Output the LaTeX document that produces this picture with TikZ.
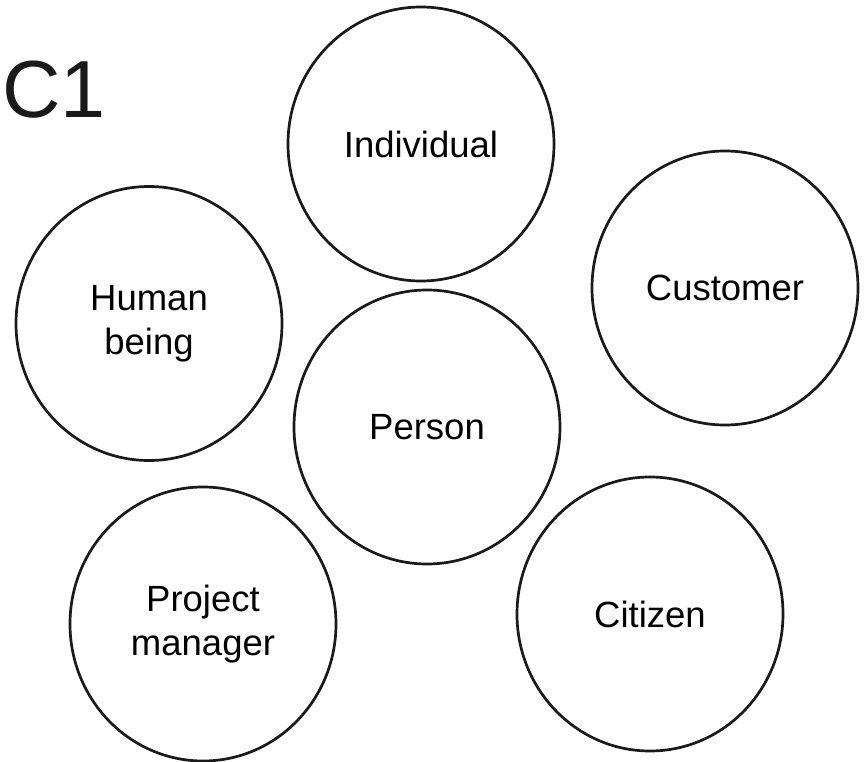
\documentclass[tikz,border=0pt]{standalone}
\usepackage{fontspec}
\setmainfont{Liberation Sans}
\usetikzlibrary{shapes.geometric}
\definecolor{inkline}{HTML}{1A1A1A}
\begin{document}
\begin{tikzpicture}[x=1pt,y=-1pt,
  bubble/.style={ellipse, draw=inkline, line width=2.7pt,
    minimum width=266pt, minimum height=274pt, inner sep=0pt,
    align=center, text=black, font=\fontsize{36.5}{44}\selectfont}]
\useasboundingbox[fill=white] (0,0) rectangle (868,762);
\node[anchor=base west, inner sep=0pt, text=inkline,
  font=\fontsize{81}{90}\selectfont] (title) at (2,118) {C1};
\node[bubble] (individual) at (421,144) {Individual};
\node[bubble] (customer) at (725,288) {Customer};
\node[bubble] (human) at (149,323.5) {Human\\being};
\node[bubble] (person) at (427,427) {Person};
\node[bubble] (pm) at (203,624) {Project\\manager};
\node[bubble] (citizen) at (650,614) {Citizen};
\end{tikzpicture}
\end{document}
